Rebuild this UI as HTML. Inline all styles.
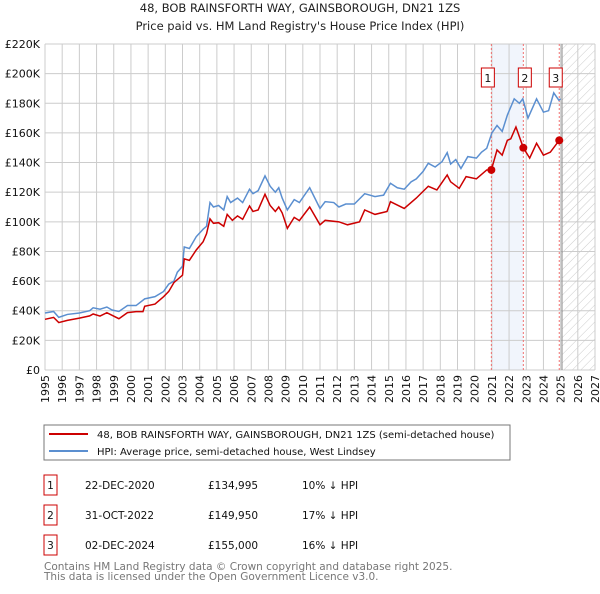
<!DOCTYPE html>
<html><head><meta charset="utf-8"><style>
body{margin:0;background:#fff;font-family:"DejaVu Sans","Liberation Sans",sans-serif;}
svg text{font-family:"DejaVu Sans","Liberation Sans",sans-serif;}
</style></head><body>
<svg id="chart" width="600" height="590" xmlns="http://www.w3.org/2000/svg">
<defs><pattern id="hatch" width="6" height="6" patternUnits="userSpaceOnUse" patternTransform="rotate(45)"><line x1="0" y1="0" x2="0" y2="6" stroke="#ccc" stroke-width="1"/></pattern></defs>
<text x="300" y="12" text-anchor="middle" font-size="11.5" fill="#222">48, BOB RAINSFORTH WAY, GAINSBOROUGH, DN21 1ZS</text>
<text x="300" y="30" text-anchor="middle" font-size="11.5" fill="#222">Price paid vs. HM Land Registry's House Price Index (HPI)</text>
<g id="grid"></g><g id="marks"></g><g id="axes"></g>
<g>
<rect x="44" y="425" width="466" height="35" fill="#fff" stroke="#777"/>
<line x1="49" y1="434" x2="88" y2="434" stroke="#cc0000" stroke-width="2"/>
<text x="97" y="438" font-size="10" fill="#111">48, BOB RAINSFORTH WAY, GAINSBOROUGH, DN21 1ZS (semi-detached house)</text>
<line x1="49" y1="451" x2="88" y2="451" stroke="#5b8fd0" stroke-width="2"/>
<text x="97" y="455" font-size="10" fill="#111">HPI: Average price, semi-detached house, West Lindsey</text>
</g>
<g id="table" font-size="10.5" fill="#111"></g>
<text x="44" y="570" font-size="10.5" fill="#777">Contains HM Land Registry data © Crown copyright and database right 2025.</text>
<text x="44" y="580" font-size="10.5" fill="#777">This data is licensed under the Open Government Licence v3.0.</text>
</svg>
<script>
const hpiYears=[1995,1995.5,1995.8,1996.3,1997,1997.6,1997.8,1998.2,1998.6,1998.9,1999.3,1999.8,2000.3,2000.8,2001.4,2001.9,2002.2,2002.5,2002.7,2003.0,2003.1,2003.4,2003.8,2004.2,2004.4,2004.6,2004.8,2005.1,2005.4,2005.6,2005.8,2006.2,2006.5,2006.9,2007.1,2007.4,2007.8,2008.1,2008.4,2008.6,2008.8,2009.1,2009.5,2009.8,2010.4,2011.0,2011.3,2011.8,2012.1,2012.5,2013.0,2013.6,2014.2,2014.7,2015.1,2015.5,2015.9,2016.3,2016.6,2017.0,2017.3,2017.7,2018.1,2018.4,2018.6,2018.9,2019.2,2019.6,2020.1,2020.4,2020.7,2021.0,2021.3,2021.6,2021.9,2022.3,2022.6,2022.8,2023.1,2023.6,2024.0,2024.3,2024.6,2024.9,2025.0];
const hpiValues=[38.5,39.5,35.5,37.5,38.5,40,42,41,42.5,40.5,39.5,43.5,43.5,48,49.5,53,58,60,66,70,83,82,90,95,97,113,110,111,108,117,113,116,113,122,119,121,131,124,120,123,116,108,115,113,123,109,113.6,113,110,112,112,119,117,118,126,123,122,127,129,134,139.5,137,140.6,146.7,139,142,136,144,143,147,149.6,160,165,161,172,183,180,183,170,183,174,175,187,182,183];
const ppYears=[1995,1995.5,1995.8,1996.3,1997,1997.6,1997.8,1998.2,1998.6,1999.3,1999.8,2000.3,2000.7,2000.8,2001.4,2001.9,2002.2,2002.5,2003.0,2003.1,2003.4,2003.8,2004.2,2004.4,2004.6,2004.8,2005.1,2005.4,2005.6,2005.9,2006.2,2006.5,2006.9,2007.1,2007.4,2007.8,2008.1,2008.4,2008.6,2008.8,2009.1,2009.5,2009.8,2010.4,2011.0,2011.3,2012.1,2012.6,2013.3,2013.6,2014.2,2014.9,2015.1,2015.9,2016.6,2017.3,2017.8,2018.4,2018.6,2019.1,2019.5,2020.1,2020.7,2020.97,2021.3,2021.6,2021.9,2022.1,2022.4,2022.83,2023.2,2023.6,2024.0,2024.4,2024.92,2025.0];
const ppValues=[34.2,35.5,32,33.5,35,36.5,37.8,36.4,38.7,34.6,38.7,39.4,39.4,43,44.5,49.5,53,59,64,75,74,81,86.6,92,102,99,99.4,97,105,101,104,101.7,110.7,107,108,118.6,111,107,110,106,95.6,103,100.8,110,98,101,100,98,100,108,105,107,113.6,109,116,124,121.5,131.6,127,122.6,130.5,129,135,134.995,148.5,145,155,156,164,149.95,143,153,145,147,155,155];
const saleYears=[2020.97,2022.83,2024.92];
const saleValues=[134.995,149.95,155];
const saleDates=["22-DEC-2020","31-OCT-2022","02-DEC-2024"];
const salePrices=["£134,995","£149,950","£155,000"];
const saleDiffs=["10% ↓ HPI","17% ↓ HPI","16% ↓ HPI"];
const yTicks=[0,20,40,60,80,100,120,140,160,180,200,220];
const yTickLabels=["£0","£20K","£40K","£60K","£80K","£100K","£120K","£140K","£160K","£180K","£200K","£220K"];
const xTicks=[1995,1996,1997,1998,1999,2000,2001,2002,2003,2004,2005,2006,2007,2008,2009,2010,2011,2012,2013,2014,2015,2016,2017,2018,2019,2020,2021,2022,2023,2024,2025,2026,2027];
const forecastStart=2025.08;

const X0=45,X1=595,Y0=370,Y1=44;
const x=yr=>X0+(yr-1995)*(X1-X0)/32;
const y=v=>Y0-v*(Y0-Y1)/220;
const NS="http://www.w3.org/2000/svg";
function mk(tag,attrs,parent,txt){const e=document.createElementNS(NS,tag);for(const k in attrs)e.setAttribute(k,attrs[k]);if(txt!==undefined)e.textContent=txt;parent.appendChild(e);return e;}
const grid=document.getElementById('grid'),marks=document.getElementById('marks'),axes=document.getElementById('axes'),table=document.getElementById('table');

const shade=mk('rect',{x:x(saleYears[0]),y:Y1,width:x(saleYears[1])-x(saleYears[0]),height:Y0-Y1,fill:'#f1f5fc'},grid);


const hatch=mk('rect',{x:x(forecastStart),y:Y1,width:X1-x(forecastStart),height:Y0-Y1,fill:'url(#hatch)'},grid);


xTicks.forEach(t=>{const l=mk('line',{x1:x(t),x2:x(t),y1:Y1,y2:Y0,stroke:'#ccc','stroke-width':1},grid);


const tx=mk('text',{x:0,y:0,'font-size':11,fill:'#111','text-anchor':'end',transform:`translate(${x(t)+4},${Y0+5}) rotate(-90)`},axes,String(t));

});
yTicks.forEach((t,i)=>{const l=mk('line',{x1:X0,x2:X1,y1:y(t),y2:y(t),stroke:'#ccc','stroke-width':1},grid);


const tx=mk('text',{x:40,y:y(t)+4,'font-size':11,fill:'#111','text-anchor':'end'},axes,yTickLabels[i]);

});
const fl=mk('line',{x1:x(forecastStart),x2:x(forecastStart),y1:Y1,y2:Y0,stroke:'#888','stroke-width':1},grid);


const labelOffsets=[-10,-5,-10];
saleYears.forEach((s,i)=>{const l=mk('line',{x1:x(s),x2:x(s),y1:Y1,y2:Y0,stroke:'#f07070','stroke-width':1,'stroke-dasharray':'2,2'},grid);


const r=mk('rect',{x:x(s)+labelOffsets[i],y:68,width:13,height:19,fill:'#fff',stroke:'#cc0000'},marks);


const tx=mk('text',{x:x(s)+labelOffsets[i]+6.5,y:82,'font-size':11,fill:'#111','text-anchor':'middle'},marks,String(i+1));

});
const hp=mk('polyline',{points:hpiYears.map((t,i)=>x(t)+','+y(hpiValues[i])).join(' '),fill:'none',stroke:'#5b8fd0','stroke-width':1.5},marks);


const pp=mk('polyline',{points:ppYears.map((t,i)=>x(t)+','+y(ppValues[i])).join(' '),fill:'none',stroke:'#cc0000','stroke-width':1.5},marks);


saleYears.forEach((s,i)=>{const c=mk('circle',{cx:x(s),cy:y(saleValues[i]),r:4,fill:'#cc0000'},marks);

});
saleDates.forEach((d,i)=>{const yy=475+i*30;
const r=mk('rect',{x:44,y:yy,width:13,height:20,fill:'#fff',stroke:'#cc0000'},table);


const n=mk('text',{x:50.5,y:yy+14,'text-anchor':'middle'},table,String(i+1));


const a=mk('text',{x:85,y:yy+14},table,d);


const b=mk('text',{x:208,y:yy+14},table,salePrices[i]);


const c=mk('text',{x:302,y:yy+14},table,saleDiffs[i]);

});
</script>
</body></html>
